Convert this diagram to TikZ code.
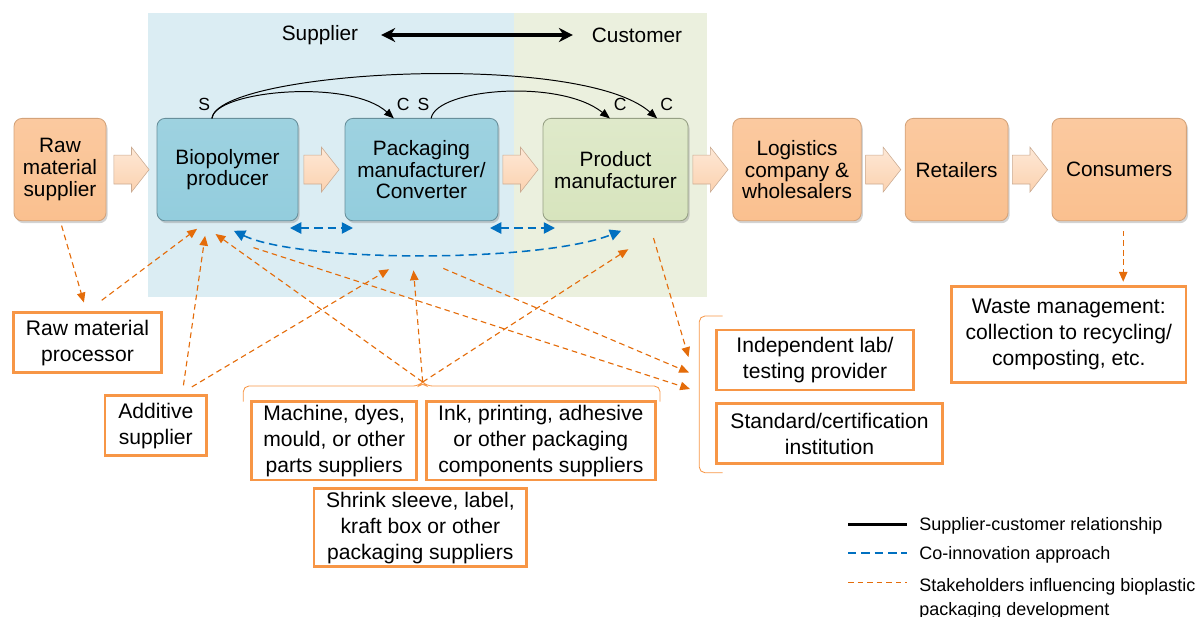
\documentclass[tikz,border=0pt]{standalone}
\usepackage{fontspec}
\setmainfont{Liberation Sans}
\usetikzlibrary{arrows.meta, calc, positioning, shadows}
\definecolor{bgblue}{RGB}{219,237,243}
\definecolor{bggreen}{RGB}{235,240,222}
\definecolor{rawfill}{RGB}{250,192,143}
\definecolor{biofill}{RGB}{147,205,221}
\definecolor{prodfill}{RGB}{215,228,189}
\definecolor{flowpeach}{RGB}{252,213,181}
\definecolor{sideorange}{RGB}{247,150,70}
\definecolor{inflorange}{RGB}{228,108,10}
\definecolor{coblue}{RGB}{0,112,192}
\newcommand{\boxfont}{\fontsize{14.8}{15.6}\selectfont}
\newcommand{\sidefont}{\fontsize{15}{18.5}\selectfont}
\newcommand{\legfont}{\fontsize{12.8}{17}\selectfont}
\newcommand{\scfont}{\fontsize{12.5}{14}\selectfont}

\begin{document}
\begin{tikzpicture}[
    stage/.style={rectangle, rounded corners=0.2cm, minimum height=2.56cm, align=center, font=\boxfont, line width=0.6pt, inner sep=2pt, outer sep=0pt,
        drop shadow={shadow xshift=0.04cm, shadow yshift=-0.06cm, opacity=0.35}},
    chain/.style={stage, top color=rawfill!85!white, bottom color=rawfill, draw=rawfill!85!black},
    supply/.style={stage, top color=biofill!90!white, bottom color=biofill, draw=biofill!70!black},
    maker/.style={stage, top color=prodfill!80!white, bottom color=prodfill, draw=prodfill!70!black},
    party/.style={draw=sideorange, line width=2pt, fill=white, align=center, font=\sidefont, minimum height=1.5cm, inner sep=2pt},
    influence/.style={draw=inflorange, line width=0.8pt, dash pattern=on 4pt off 2.8pt, -{Triangle[length=7pt, width=6pt]}},
    coinnov/.style={draw=coblue, line width=1.3pt, dash pattern=on 6pt off 3.5pt},
    relation/.style={line width=0.7pt, -{Triangle[length=7pt, width=5.5pt]}},
    sclabel/.style={font=\scfont, inner sep=1pt},
    bracket/.style={draw=sideorange, line width=0.6pt, rounded corners=4pt},
    flow/.pic={\shadedraw[top color=flowpeach!55!white, bottom color=flowpeach!85!rawfill, draw=flowpeach!80!black, line width=0.4pt]
        (-0.44,0.36) -- (0,0.36) -- (0,0.56) -- (0.44,0) -- (0,-0.56) -- (0,-0.36) -- (-0.44,-0.36) -- cycle;}]

    \useasboundingbox (0,0) rectangle (30.075,-15.4);

    % supplier / customer areas
    \fill[bgblue] (3.7,-0.325) rectangle (12.85,-7.425);
    \fill[bggreen] (12.85,-0.325) rectangle (17.675,-7.425);

    \node[font=\boxfont] (sup) at (8.0,-0.875) {Supplier};
    \node[font=\boxfont] (cus) at (15.925,-0.875) {Customer};
    \draw[{Stealth[length=10pt,width=10pt]}-{Stealth[length=10pt,width=10pt]}, line width=2.2pt, shorten <=0.45cm, shorten >=0.35cm] (sup) -- (cus);

    % value chain
    \node[chain, minimum width=2.3cm] (rawsup) at (1.5,-4.24) {Raw\\material\\supplier};
    \node[supply, minimum width=3.525cm, right=1.275cm of rawsup] (biopoly) {Biopolymer\\producer};
    \node[supply, minimum width=3.825cm, right=1.175cm of biopoly] (packconv) {Packaging\\manufacturer/\\Converter};
    \node[maker, minimum width=3.625cm, right=1.125cm of packconv] (prodman) {Product\\manufacturer};
    \node[chain, minimum width=3.21cm, right=1.12cm of prodman] (logist) {Logistics\\company \&\\wholesalers};
    \node[chain, minimum width=2.57cm, right=1.1cm of logist] (retail) {Retailers};
    \node[chain, minimum width=3.36cm, right=1.1cm of retail] (consum) {Consumers};

    \foreach \a/\b in {rawsup/biopoly, biopoly/packconv, packconv/prodman, prodman/logist, logist/retail, retail/consum}
        \pic at ($(\a.east)!0.5!(\b.west)$) {flow};

    % supplier-customer relationships
    \coordinate (bioS) at ($(biopoly.north)+(-0.39,0)$);
    \coordinate (packC) at ($(packconv.north)+(-0.69,0)$);
    \coordinate (packS) at ($(packconv.north)+(0.24,0)$);
    \coordinate (prodC1) at ($(prodman.north)+(-0.14,0)$);
    \coordinate (prodC2) at ($(prodman.north)+(1.04,0)$);
    \draw[relation] (bioS) .. controls +(0.075,0.7) and +(-1.1,1.0) .. (packC);
    \draw[relation] (bioS) .. controls +(0.15,1.2) and +(-1.925,1.7) .. (prodC2);
    \draw[relation] (packS) .. controls +(0.125,0.75) and +(-1.25,1.0) .. (prodC1);
    \node[sclabel, anchor=south east] (sbio) at ($(bioS)+(0,0.16)$) {S};
    \node[sclabel, anchor=south west] (cpack) at ($(packC)+(0.03,0.16)$) {C};
    \node[sclabel, anchor=south east] (spack) at ($(packS)+(0,0.16)$) {S};
    \node[sclabel, anchor=south west] (cprod) at ($(prodC1)+(0.06,0.16)$) {C};
    \node[sclabel, anchor=south west] (cprodb) at ($(prodC2)+(0.04,0.16)$) {C};

    % co-innovation
    \draw[coinnov, {Triangle[length=8pt,width=8pt]}-{Triangle[length=8pt,width=8pt]}] ($(biopoly.south east)+(-0.2,-0.18)$) -- ($(packconv.south west)+(0.2,-0.18)$);
    \draw[coinnov, {Triangle[length=8pt,width=8pt]}-{Triangle[length=8pt,width=8pt]}] ($(packconv.south east)+(-0.2,-0.18)$) -- ($(prodman.south west)+(0.3,-0.18)$);
    \draw[coinnov, line width=1.1pt, {Triangle[length=8pt,width=8pt]}-{Triangle[length=8pt,width=8pt]}] ($(biopoly.south)+(0.16,-0.25)$) .. controls +(1.65,-0.8) and +(-2.025,-0.8) .. ($(prodman.south)+(0.14,-0.25)$);

    % other stakeholders
    \node[party, minimum width=3.71cm] (rawproc) at (2.1875,-8.5675) {Raw material\\processor};
    \node[party, minimum width=2.54cm] (additive) at (3.896,-10.6425) {Additive\\supplier};
    \node[party, minimum width=4.125cm, minimum height=1.96cm] (machine) at (8.355,-11.02) {Machine, dyes,\\mould, or other\\parts suppliers};
    \node[party, minimum width=5.735cm, minimum height=1.96cm, right=0.165cm of machine] (ink) {Ink, printing, adhesive\\or other packaging\\components suppliers};
    \node[party, minimum width=5.32cm, minimum height=1.96cm] (shrink) at (10.51,-13.19) {Shrink sleeve, label,\\kraft box or other\\packaging suppliers};
    \node[party, minimum width=4.915cm] (lab) at (20.375,-9.0) {Independent lab/\\testing provider};
    \node[party, minimum width=5.64cm, below=0.275cm of lab.south west, anchor=north west] (standard) {Standard/certification\\institution};
    \node[party, minimum width=5.86cm, minimum height=2.4cm] (waste) at (26.72,-8.3675) {Waste management:\\collection to recycling/\\composting, etc.};

    \coordinate (suppbrace) at (10.5675,-9.55);
    \draw[bracket] (6.0825,-10.04) -- (6.0825,-9.65) -- (10.47,-9.65) -- (suppbrace) -- (10.665,-9.65) -- (16.5,-9.65) -- (16.5,-10.04);
    \draw[bracket] (18.0675,-7.9) -- (17.4825,-7.9) -- (17.4825,-11.8175) -- (18.0675,-11.8175);
    \coordinate (labin1) at (17.2125,-8.925);
    \coordinate (labin2) at (17.225,-9.3125);
    \coordinate (labin3) at (17.25,-9.725);

    \draw[influence] ($(rawsup.south)+(0.04,-0.12)$) -- ($(rawproc.north)+(-0.09,0.22)$);
    \draw[influence] ($(rawproc.north)+(0.355,0.275)$) -- ($(biopoly.south)+(-0.76,-0.2)$);
    \draw[influence] ($(additive.north)+(0.69,0.225)$) -- ($(biopoly.south)+(-0.56,-0.375)$);
    \draw[influence] ($(additive.north)+(0.9,0.185)$) -- ($(packconv.south)+(-0.81,-1.21)$);
    \draw[influence] (suppbrace) -- ($(biopoly.south)+(-0.3,-0.33)$);
    \draw[influence] (suppbrace) -- ($(packconv.south)+(-0.2,-1.24)$);
    \draw[influence] (suppbrace) -- ($(prodman.south)+(0.32,-0.71)$);
    \draw[influence] ($(biopoly.south)+(0.65,-0.67)$) -- (labin3);
    \draw[influence] ($(packconv.south)+(0.545,-1.19)$) -- (labin2);
    \draw[influence] ($(prodman.south)+(0.95,-0.43)$) -- (labin1);
    \draw[influence] ($(consum.south)+(0.1,-0.25)$) -- ($(consum.south |- waste.north)+(0.1,0.09)$);

    % legend
    \node[font=\legfont, anchor=west, inner sep=0pt] (legsc) at (22.975,-13.15) {Supplier-customer relationship};
    \node[font=\legfont, anchor=west, inner sep=0pt] (legco) at (22.975,-13.875) {Co-innovation approach};
    \node[font=\legfont, anchor=north west, align=left, inner sep=0pt] (legst) at (22.975,-14.45) {Stakeholders influencing bioplastic\\packaging development};
    \draw[line width=2.2pt] ($(legsc.west)+(-1.775,0.03)$) -- ($(legsc.west)+(-0.3,0.03)$);
    \draw[coinnov, line width=1.4pt] ($(legco.west)+(-1.775,0.04)$) -- ($(legco.west)+(-0.3,0.04)$);
    \draw[influence, -] ($(legst.north west)+(-1.775,-0.11)$) -- ($(legst.north west)+(-0.3,-0.11)$);
\end{tikzpicture}
\end{document}
